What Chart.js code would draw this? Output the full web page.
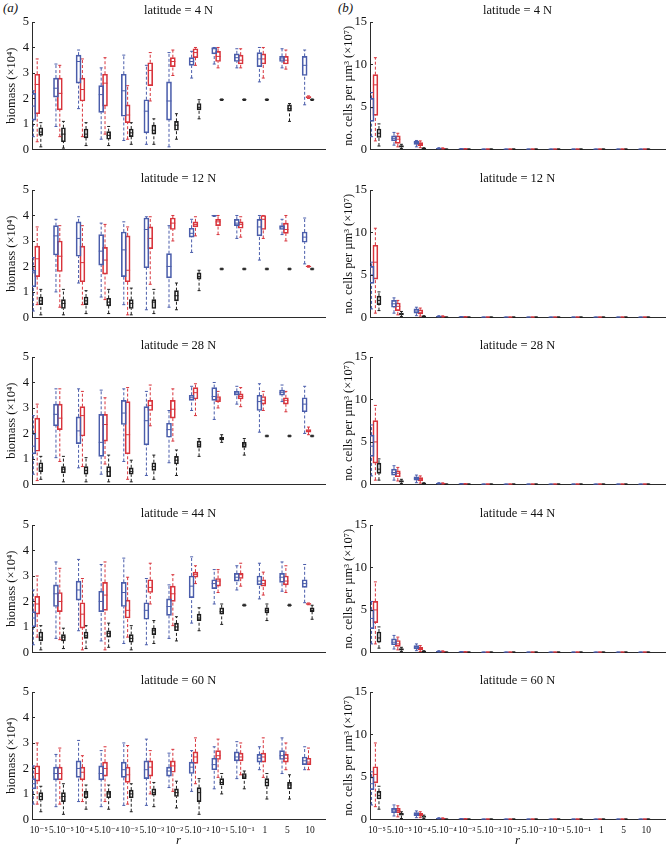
<!DOCTYPE html>
<html>
<head>
<meta charset="utf-8">
<script src="https://cdn.jsdelivr.net/npm/chart.js@4.4.1/dist/chart.umd.min.js"></script>
<style>
  body { margin: 0; background: #fff; }
  #fig { position: relative; width: 670px; height: 849px; font-family: 'Liberation Serif', 'DejaVu Serif', serif; }
  .panel { position: absolute; }
  .tag { position: absolute; font-style: italic; font-size: 13px; color: #111; }
</style>
</head>
<body>
<div id="fig">
  <span class="tag" style="left:3px;top:0px">(a)</span>
  <span class="tag" style="left:338px;top:0px">(b)</span>
</div>
<script>
// ------------------------------------------------------------
// data: every box is [lower whisker, q1, median, q3, upper whisker]
// ------------------------------------------------------------
const rLabels = ['10⁻⁵', '5.10⁻⁵', '10⁻⁴', '5.10⁻⁴', '10⁻³', '5.10⁻³', '10⁻²', '5.10⁻²', '10⁻¹', '5.10⁻¹', '1', '5', '10'];
const latitudes = ['latitude = 4 N', 'latitude = 12 N', 'latitude = 28 N', 'latitude = 44 N', 'latitude = 60 N'];

// biomass (x10^4)
const bio04Blue = [[0.5,1.15,1.7,2.2,2.3],[0.9,2.05,2.4,2.8,3.35],[1.6,2.6,3.45,3.7,3.9],[0.4,1.45,2.15,2.5,3.2],[0.35,1.3,2.3,2.95,3.7],[0.2,0.65,1.5,1.95,3.3],[0.1,1.15,1.9,2.65,3.8],[2.8,3.3,3.45,3.6,3.85],[3.35,3.75,3.95,4.0,4.0],[3.2,3.45,3.6,3.75,3.95],[2.65,3.25,3.55,3.8,4.0],[3.2,3.45,3.55,3.65,3.95],[1.75,2.9,3.3,3.65,3.9]];
const bio04Red = [[0.3,1.4,2.55,2.95,3.55],[0.5,1.55,2.2,2.8,3.3],[0.5,1.9,2.35,2.8,3.55],[0.6,1.7,2.6,2.95,3.6],[0.4,1.05,1.35,1.75,2.5],[1.9,2.5,3.1,3.4,3.8],[2.9,3.25,3.45,3.6,3.9],[3.3,3.6,3.8,3.95,4.0],[3.2,3.45,3.65,3.85,4.0],[3.2,3.35,3.5,3.7,3.95],[2.8,3.35,3.55,3.75,4.0],[3.15,3.35,3.5,3.65,3.9],[2.0,2.03,2.05,2.07,2.1]];
const bio04Black = [[0.1,0.55,0.68,0.85,1.05],[0.05,0.3,0.6,0.85,1.1],[0.15,0.45,0.6,0.8,1.05],[0.15,0.4,0.55,0.7,0.9],[0.2,0.5,0.65,0.8,1.05],[0.2,0.6,0.75,0.95,1.2],[0.4,0.75,0.95,1.1,1.4],[1.2,1.55,1.65,1.8,1.95],[1.92,1.94,1.95,1.96,1.98],[1.92,1.94,1.95,1.96,1.98],[1.92,1.94,1.95,1.96,1.98],[1.1,1.5,1.6,1.75,1.8],[1.92,1.94,1.95,1.96,1.98]];

const bio12Blue = [[0.25,1.2,1.75,1.85,2.35],[1.0,2.45,3.2,3.6,3.85],[1.35,2.4,3.1,3.75,3.95],[0.8,2.05,2.6,3.25,3.7],[0.5,1.6,2.65,3.35,3.75],[0.3,1.95,3.45,3.9,3.95],[0.4,1.55,2.0,2.5,3.6],[2.55,3.15,3.3,3.5,3.85],[3.96,3.98,3.99,4.0,4.0],[3.1,3.6,3.7,3.85,4.0],[2.25,3.2,3.55,3.85,4.0],[3.25,3.45,3.55,3.6,3.85],[2.1,2.95,3.15,3.35,3.9]];
const bio12Red = [[0.5,1.6,2.3,2.8,3.55],[0.4,1.8,2.4,3.0,3.6],[0.5,1.4,2.15,2.8,3.6],[0.7,1.7,2.25,2.75,3.65],[0.1,1.4,1.85,3.2,3.55],[1.3,2.7,3.1,3.55,3.95],[3.0,3.45,3.7,3.9,4.0],[3.2,3.55,3.65,3.75,3.95],[3.25,3.6,3.75,3.85,4.0],[3.15,3.5,3.65,3.75,3.95],[3.1,3.45,3.85,4.0,4.0],[3.0,3.3,3.45,3.7,4.0],[1.97,1.99,2.0,2.01,2.03]];
const bio12Black = [[0.1,0.5,0.65,0.8,1.1],[0.1,0.35,0.55,0.7,1.1],[0.15,0.5,0.65,0.8,1.05],[0.15,0.45,0.6,0.75,1.1],[0.1,0.35,0.55,0.7,1.15],[0.15,0.35,0.6,0.7,1.1],[0.3,0.65,0.85,1.05,1.35],[1.05,1.5,1.6,1.75,1.85],[1.87,1.89,1.9,1.91,1.93],[1.87,1.89,1.9,1.91,1.93],[1.87,1.89,1.9,1.91,1.93],[1.87,1.89,1.9,1.91,1.93],[1.87,1.89,1.9,1.91,1.93]];

const bio28Blue = [[0.4,1.2,1.5,2.0,2.7],[1.05,2.3,2.75,3.15,3.75],[0.65,1.6,2.1,2.65,3.75],[0.4,1.1,1.65,2.75,3.7],[0.9,2.35,2.8,3.3,3.75],[0.35,1.55,2.5,3.05,3.65],[0.85,1.85,2.15,2.4,2.9],[2.9,3.3,3.4,3.5,3.85],[2.55,3.3,3.45,3.8,4.0],[3.15,3.5,3.55,3.65,3.85],[2.05,2.9,3.25,3.5,3.95],[3.25,3.5,3.6,3.7,3.9],[2.0,2.85,3.15,3.4,3.85]];
const bio28Red = [[0.15,1.3,1.8,2.6,3.15],[0.9,2.15,2.6,3.15,3.75],[0.7,1.9,2.7,3.05,3.65],[0.8,1.7,2.35,2.75,3.4],[0.2,1.2,1.95,3.25,3.8],[2.3,2.9,3.1,3.3,3.9],[1.7,2.6,2.95,3.3,3.75],[2.7,3.35,3.6,3.8,3.95],[3.0,3.25,3.35,3.45,3.65],[3.05,3.35,3.45,3.55,3.8],[2.9,3.15,3.3,3.45,3.65],[2.85,3.15,3.3,3.4,3.65],[1.95,2.05,2.1,2.15,2.25]];
const bio28Black = [[0.2,0.5,0.65,0.85,1.1],[0.1,0.45,0.6,0.7,1.1],[0.1,0.4,0.55,0.7,1.05],[0.1,0.3,0.5,0.7,1.15],[0.1,0.4,0.5,0.65,0.95],[0.2,0.55,0.7,0.85,1.15],[0.35,0.8,0.95,1.1,1.35],[1.1,1.45,1.55,1.7,1.8],[1.65,1.75,1.8,1.85,1.95],[1.15,1.45,1.55,1.65,1.8],[1.87,1.89,1.9,1.91,1.93],[1.87,1.89,1.9,1.91,1.93],[1.87,1.89,1.9,1.91,1.93]];

const bio44Blue = [[0.3,1.0,1.35,1.6,2.45],[0.55,1.8,2.3,2.65,3.55],[0.85,2.05,2.45,2.8,3.65],[0.45,1.6,2.0,2.4,3.45],[0.35,1.8,2.35,2.75,3.7],[0.3,1.3,1.65,1.95,2.9],[0.55,1.45,1.8,2.1,2.65],[1.15,2.15,2.6,3.0,3.75],[1.9,2.5,2.7,2.85,3.25],[2.45,2.8,2.95,3.1,3.4],[2.1,2.65,2.8,3.0,3.5],[2.4,2.75,2.95,3.1,3.55],[1.95,2.55,2.7,2.85,3.45]];
const bio44Red = [[0.6,1.5,1.9,2.2,3.0],[0.5,1.6,2.0,2.35,3.3],[0.1,0.95,1.5,1.95,2.9],[0.1,1.65,2.25,2.75,3.55],[0.6,1.35,1.65,2.05,2.95],[1.9,2.35,2.55,2.85,3.5],[1.05,2.0,2.3,2.6,3.05],[2.7,2.95,3.05,3.15,3.4],[2.35,2.6,2.8,2.9,3.25],[2.6,2.9,3.05,3.1,3.5],[2.25,2.6,2.7,2.85,3.15],[2.35,2.65,2.8,3.0,3.4],[1.87,1.89,1.9,1.92,1.94]];
const bio44Black = [[0.1,0.45,0.6,0.8,1.05],[0.15,0.45,0.6,0.7,0.95],[0.15,0.55,0.65,0.8,1.05],[0.2,0.6,0.75,0.85,1.15],[0.1,0.4,0.55,0.7,1.05],[0.35,0.7,0.85,0.95,1.25],[0.45,0.85,1.0,1.15,1.4],[0.85,1.25,1.35,1.5,1.75],[1.1,1.5,1.6,1.75,1.9],[1.82,1.84,1.85,1.87,1.89],[1.25,1.55,1.65,1.75,1.9],[1.82,1.84,1.85,1.87,1.89],[1.3,1.6,1.65,1.75,1.85]];

const bio60Blue = [[0.6,1.2,1.4,1.6,2.1],[0.5,1.55,1.8,2.05,2.55],[0.7,1.65,2.0,2.3,3.1],[0.5,1.55,1.8,2.1,2.7],[0.55,1.65,1.95,2.25,3.0],[0.55,1.6,1.95,2.3,3.15],[1.25,1.7,1.9,2.05,2.6],[1.1,1.8,2.05,2.25,2.7],[1.2,1.95,2.15,2.4,2.85],[1.6,2.3,2.45,2.65,3.05],[1.95,2.25,2.4,2.55,2.85],[1.8,2.35,2.5,2.7,3.2],[1.95,2.15,2.3,2.45,2.85]];
const bio60Red = [[0.6,1.5,1.8,2.1,3.0],[0.6,1.55,1.8,2.05,2.8],[0.7,1.55,1.85,2.05,2.5],[0.7,1.7,2.0,2.25,2.85],[0.6,1.45,1.75,2.05,2.9],[1.0,1.7,2.05,2.3,2.7],[1.1,1.85,2.1,2.3,2.75],[1.4,2.2,2.45,2.65,3.2],[1.65,2.35,2.5,2.7,3.15],[1.75,2.3,2.45,2.6,3.0],[1.65,2.25,2.45,2.6,3.2],[1.95,2.25,2.4,2.55,3.0],[1.95,2.15,2.25,2.4,2.8]];
const bio60Black = [[0.3,0.75,0.9,1.05,1.3],[0.2,0.7,0.9,1.05,1.4],[0.4,0.85,1.0,1.1,1.35],[0.4,0.85,1.0,1.1,1.35],[0.3,0.85,1.0,1.15,1.4],[0.5,0.95,1.05,1.2,1.45],[0.45,0.9,1.05,1.2,1.5],[0.2,0.7,1.05,1.25,1.6],[1.0,1.35,1.45,1.6,1.8],[1.2,1.6,1.7,1.8,1.9],[0.8,1.3,1.45,1.6,1.8],[0.8,1.2,1.35,1.45,1.75],null];

// no. cells per um^3 (x10^7); boxes beyond 5.10^-4 sit on zero
const Z = [0, 0.01, 0.02, 0.03, 0.05];
const cel04Blue = [[1.5,3.3,4.9,6.0,6.7],[0.5,1.0,1.3,1.6,2.0],[0.3,0.6,0.8,0.95,1.05],[0.02,0.06,0.1,0.14,0.2],[0.01,0.03,0.05,0.07,0.1],Z,Z,Z,Z,Z,Z,Z,Z];
const cel04Red = [[1.0,4.0,7.6,8.8,10.8],[0.3,0.7,1.2,1.6,1.9],[0.2,0.45,0.6,0.8,1.0],[0.02,0.05,0.08,0.12,0.18],[0.01,0.02,0.04,0.06,0.09],Z,Z,Z,Z,Z,Z,Z,Z];
const cel04Black = [[0.4,1.4,1.9,2.4,3.0],[0.1,0.25,0.35,0.45,0.6],[0.02,0.06,0.1,0.14,0.2],Z,Z,Z,Z,Z,Z,Z,Z,Z,Z];

const cel12Blue = [[1.0,4.0,5.0,6.0,6.5],[0.5,1.2,1.6,2.0,2.3],[0.2,0.5,0.75,1.0,1.2],[0.02,0.06,0.1,0.14,0.2],[0.01,0.03,0.05,0.07,0.1],Z,Z,Z,Z,Z,Z,Z,Z];
const cel12Red = [[0.5,4.5,6.5,8.5,10.5],[0.3,0.8,1.3,1.7,2.0],[0.15,0.4,0.6,0.9,1.1],[0.02,0.05,0.08,0.12,0.18],[0.01,0.02,0.04,0.06,0.09],Z,Z,Z,Z,Z,Z,Z,Z];
const cel12Black = [[0.8,1.5,2.0,2.5,3.0],[0.1,0.3,0.4,0.5,0.7],[0.02,0.06,0.1,0.14,0.2],Z,Z,Z,Z,Z,Z,Z,Z,Z,Z];

const cel28Blue = [[1.0,3.3,4.5,5.8,7.0],[0.5,1.1,1.4,1.8,2.2],[0.2,0.5,0.7,0.9,1.1],[0.02,0.06,0.1,0.14,0.2],[0.01,0.03,0.05,0.07,0.1],Z,Z,Z,Z,Z,Z,Z,Z];
const cel28Red = [[0.5,2.5,5.0,7.5,9.3],[0.4,0.9,1.3,1.6,2.0],[0.15,0.4,0.6,0.8,1.0],[0.02,0.05,0.08,0.12,0.18],[0.01,0.02,0.04,0.06,0.09],Z,Z,Z,Z,Z,Z,Z,Z];
const cel28Black = [[0.5,1.3,1.8,2.5,3.0],[0.1,0.25,0.35,0.45,0.6],[0.02,0.06,0.1,0.14,0.2],Z,Z,Z,Z,Z,Z,Z,Z,Z,Z];

const cel44Blue = [[1.0,2.8,4.0,5.0,6.0],[0.4,0.9,1.2,1.6,2.0],[0.2,0.4,0.6,0.8,1.0],[0.02,0.06,0.1,0.14,0.2],[0.01,0.03,0.05,0.07,0.1],Z,Z,Z,Z,Z,Z,Z,Z];
const cel44Red = [[1.0,3.5,5.0,6.0,8.3],[0.3,0.7,1.0,1.4,1.8],[0.1,0.3,0.45,0.6,0.8],[0.02,0.05,0.08,0.12,0.18],[0.01,0.02,0.04,0.06,0.09],Z,Z,Z,Z,Z,Z,Z,Z];
const cel44Black = [[0.5,1.2,1.7,2.4,3.0],[0.1,0.25,0.35,0.45,0.6],[0.02,0.06,0.1,0.14,0.2],Z,Z,Z,Z,Z,Z,Z,Z,Z,Z];

const cel60Blue = [[1.7,3.5,4.2,5.0,5.6],[0.4,0.8,1.1,1.3,1.7],[0.2,0.45,0.6,0.8,1.0],[0.02,0.06,0.1,0.14,0.2],[0.01,0.03,0.05,0.07,0.1],Z,Z,Z,Z,Z,Z,Z,Z];
const cel60Red = [[1.5,4.3,5.3,6.2,9.0],[0.3,0.8,1.05,1.3,1.6],[0.2,0.4,0.55,0.7,0.9],[0.02,0.05,0.08,0.12,0.18],[0.01,0.02,0.04,0.06,0.09],Z,Z,Z,Z,Z,Z,Z,Z];
const cel60Black = [[1.2,2.4,2.8,3.3,3.9],[0.1,0.5,0.6,0.7,0.9],[0.1,0.25,0.3,0.4,0.5],Z,Z,Z,Z,Z,Z,Z,Z,Z,Z];

const biomassRows = [[bio04Blue, bio04Red, bio04Black], [bio12Blue, bio12Red, bio12Black], [bio28Blue, bio28Red, bio28Black], [bio44Blue, bio44Red, bio44Black], [bio60Blue, bio60Red, bio60Black]];
const cellRows = [[cel04Blue, cel04Red, cel04Black], [cel12Blue, cel12Red, cel12Black], [cel28Blue, cel28Red, cel28Black], [cel44Blue, cel44Red, cel44Black], [cel60Blue, cel60Red, cel60Black]];

// ------------------------------------------------------------
// styles / layout
// ------------------------------------------------------------
const FONT = "'Liberation Serif', 'DejaVu Serif', serif";
const AXIS = '#2b2b2b';
Chart.defaults.font.family = FONT;
Chart.defaults.color = '#111';

// offset is in category units, width in px
const SERIES = [
  { id: 'xb', color: '#4a5dab', off: -0.24, width: 5 },
  { id: 'xr', color: '#d8343c', off: -0.07, width: 5 },
  { id: 'xk', color: '#1e1e1e', off: 0.09, width: 4 },
];

const COLS = [
  { left: 0, yW: 32, padRight: 10, xMin: -0.3, xMax: 12.66, yMax: 5, yStep: 1, yTitle: 'biomass (×10⁴)', yTitlePad: 4, tickPad: 3, rows: biomassRows },
  { left: 335, yW: 35, padRight: 3, xMin: -0.31, xMax: 12.84, yMax: 15, yStep: 5, yTitle: 'no. cells per µm³ (×10⁷)', yTitlePad: 6, tickPad: 3, rows: cellRows },
];
const ROW_TOP = [0, 168, 335, 503, 670];

// small inward tick marks on the y axis (MATLAB style)
const inwardTicks = {
  id: 'inwardTicks',
  afterDraw(chart) {
    const { ctx, chartArea, scales: { y } } = chart;
    ctx.save();
    ctx.strokeStyle = AXIS;
    ctx.lineWidth = 1;
    ctx.beginPath();
    y.ticks.forEach((t) => {
      const py = Math.round(y.getPixelForValue(t.value)) + 0.5;
      ctx.moveTo(chartArea.left, py);
      ctx.lineTo(chartArea.left + 3, py);
    });
    ctx.stroke();
    ctx.restore();
  },
};

function seriesDatasets(stats, s) {
  const idx = [];
  stats.forEach((d, i) => { if (d) idx.push(i); });
  const whisk = [];
  idx.forEach((i) => {
    const d = stats[i];
    whisk.push({ x: i, y: d[0] }, { x: i, y: d[1] }, { x: i, y: null }, { x: i, y: d[3] }, { x: i, y: d[4] }, { x: i, y: null });
  });
  const common = { xAxisID: s.id, yAxisID: 'y' };
  return [
    {
      ...common, type: 'line', data: whisk, borderColor: s.color, borderWidth: 1,
      borderDash: [3, 2], pointRadius: 0, spanGaps: false, fill: false,
    },
    {
      ...common, type: 'bar', data: idx.map((i) => ({ x: i, y: [stats[i][1], stats[i][3]] })),
      backgroundColor: 'rgba(0,0,0,0)', borderColor: s.color, borderWidth: 1, borderSkipped: false,
      grouped: false, barThickness: s.width,
    },
    {
      ...common, type: 'scatter', data: idx.map((i) => ({ x: i, y: stats[i][2] })),
      pointStyle: 'line', pointRadius: s.width / 2, pointBorderColor: s.color, pointBorderWidth: 1,
    },
    {
      ...common, type: 'scatter', data: idx.flatMap((i) => [{ x: i, y: stats[i][0] }, { x: i, y: stats[i][4] }]),
      pointStyle: 'line', pointRadius: 1.5, pointBorderColor: s.color, pointBorderWidth: 1,
    },
  ];
}

function makePanel(col, row) {
  const c = COLS[col];
  const bottom = row === 4;
  const height = bottom ? 179 : 167;
  const wrap = document.createElement('div');
  wrap.className = 'panel';
  wrap.style.left = c.left + 'px';
  wrap.style.top = ROW_TOP[row] + 'px';
  const canvas = document.createElement('canvas');
  canvas.width = 335;
  canvas.height = height;
  wrap.appendChild(canvas);
  document.getElementById('fig').appendChild(wrap);

  const datasets = [];
  SERIES.forEach((s, k) => datasets.push(...seriesDatasets(c.rows[row][k], s)));

  const scales = {
    x: {
      type: 'linear', min: c.xMin, max: c.xMax, offset: false,
      grid: { display: false, drawTicks: false },
      border: { display: true, color: AXIS, width: 1 },
      ticks: {
        display: bottom, stepSize: 1, includeBounds: false, autoSkip: false,
        maxRotation: 0, minRotation: 0, padding: 5, font: { size: 9.5 }, color: '#111',
        callback: (v) => rLabels[v],
      },
      title: { display: bottom, text: 'r', font: { size: 13, style: 'italic' }, padding: { top: 0, bottom: 1 } },
      afterFit: (s) => { s.height = bottom ? 29.6 : 17.6; },
    },
    y: {
      min: 0, max: c.yMax,
      grid: { display: false, drawTicks: false },
      border: { display: true, color: AXIS, width: 1 },
      ticks: { stepSize: c.yStep, padding: c.tickPad, font: { size: 12.5 }, color: '#111' },
      title: { display: true, text: c.yTitle, font: { size: 12.5 }, padding: { top: c.yTitlePad, bottom: 0 } },
      afterFit: (s) => { s.width = c.yW; },
    },
  };
  // one hidden x axis per series, shifted so category i lands at i + offset
  SERIES.forEach((s) => {
    scales[s.id] = { type: 'linear', display: false, offset: false, min: c.xMin - s.off, max: c.xMax - s.off };
  });

  new Chart(canvas, {
    type: 'bar',
    data: { datasets },
    options: {
      responsive: false,
      animation: false,
      events: [],
      layout: { padding: { left: 0, right: c.padRight, top: 0, bottom: 0 } },
      plugins: {
        legend: { display: false },
        tooltip: { enabled: false },
        title: {
          display: true, text: latitudes[row], fullSize: false, color: '#111',
          font: { size: 12.5, weight: 'normal' }, padding: { top: 3, bottom: 4 },
        },
      },
      scales,
    },
    plugins: [inwardTicks],
  });
}

for (let row = 0; row < 5; row++) {
  makePanel(0, row);
  makePanel(1, row);
}
</script>
</body>
</html>
